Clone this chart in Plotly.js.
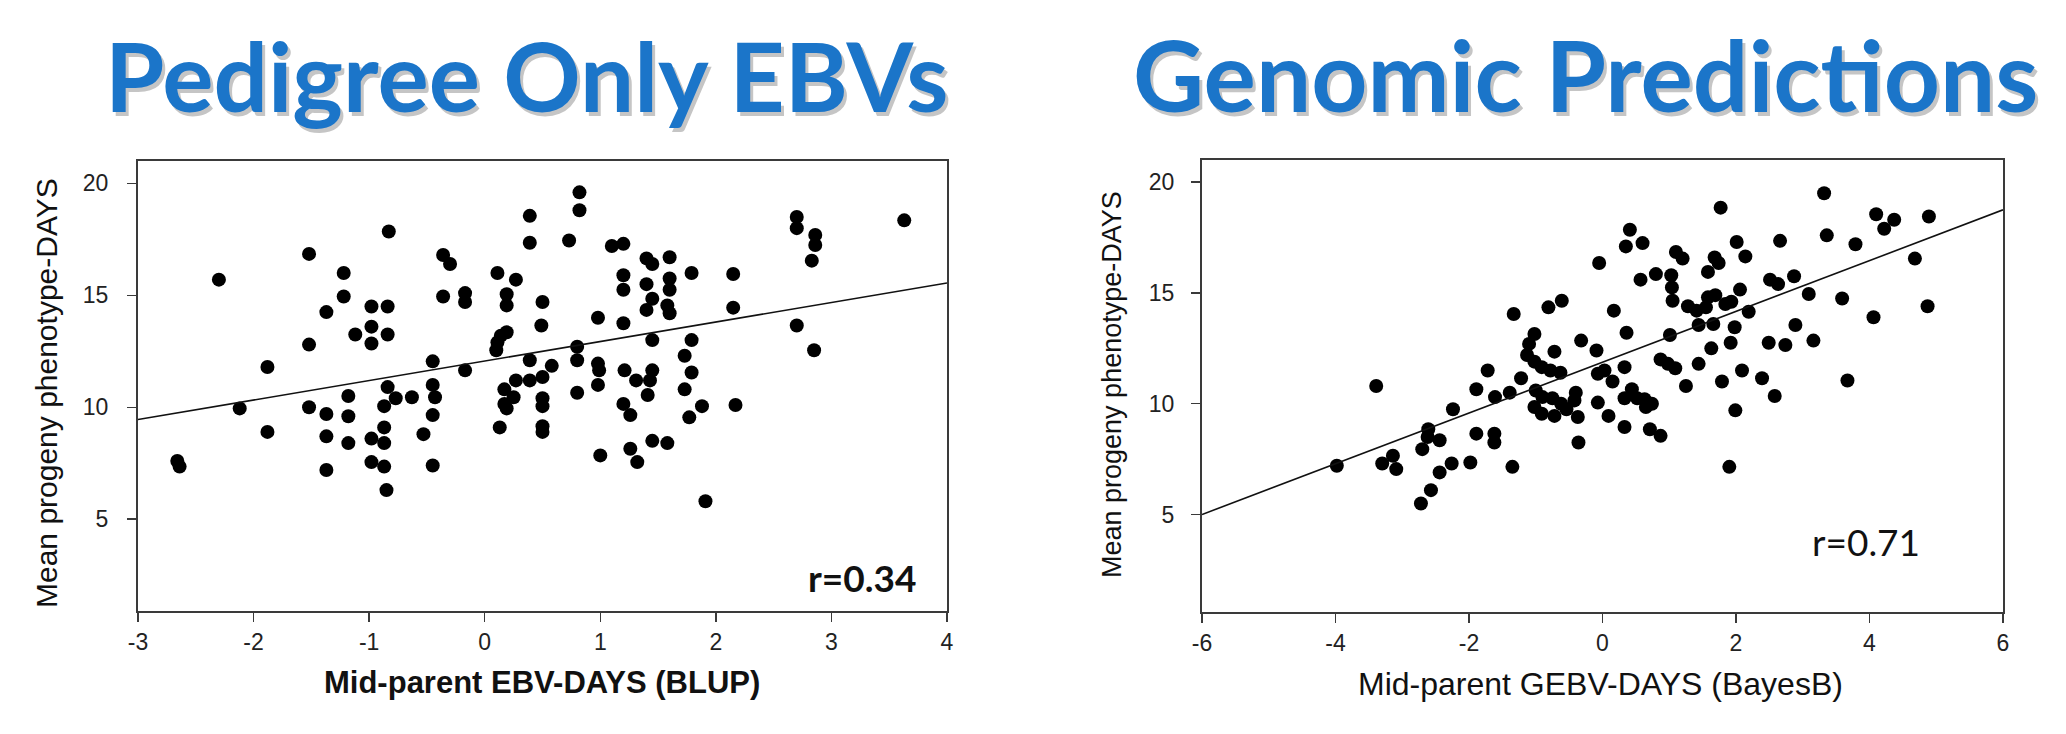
<!DOCTYPE html>
<html><head><meta charset="utf-8">
<script src="https://cdn.plot.ly/plotly-3.0.1.min.js"></script>
<style>html,body{margin:0;padding:0;background:#fff;}#chart{width:2066px;height:734px;}</style>
</head><body><div id="chart"></div>
<script>
// ---- Panel titles ----
const panelTitles = ["Pedigree Only EBVs", "Genomic Predictions"];
const xTitles = ["Mid-parent EBV-DAYS (BLUP)", "Mid-parent GEBV-DAYS (BayesB)"];
const yTitle = "Mean progeny phenotype-DAYS";
const rLabels = ["r=0.34", "r=0.71"];

// ---- Left panel: pedigree-only EBVs ----
const leftX = [
  -2.30, -2.66, -2.64, -2.12, -1.88, -1.88, -1.52, -1.52, -1.52, -1.37, -1.37, -1.37, -1.37,
  -1.22, -1.22, -1.18, -1.18, -1.18, -1.12, -0.98, -0.98, -0.98, -0.98, -0.98,
  -0.84, -0.84, -0.84, -0.87, -0.87, -0.87, -0.87, -0.85, -0.77, -0.63, -0.83,
  -0.53, -0.45, -0.45, -0.43, -0.45, -0.45, -0.36, -0.30, -0.36, -0.17, -0.17, -0.17,
  0.11, 0.11, 0.10, 0.14, 0.13, 0.19, 0.19, 0.19, 0.17, 0.17, 0.19, 0.25, 0.27, 0.27,
  0.39, 0.39, 0.39, 0.39, 0.50, 0.49, 0.50, 0.50, 0.50, 0.50, 0.50, 0.58,
  0.82, 0.82, 0.73, 0.80, 0.80, 0.80, 0.98, 0.98, 0.99, 0.98, 1.00,
  1.10, 1.20, 1.20, 1.20, 1.20, 1.21, 1.20, 1.26, 1.26, 1.32, 1.31,
  1.40, 1.45, 1.40, 1.45, 1.40, 1.45, 1.45, 1.43, 1.41, 1.45, 1.58, 1.60, 1.60, 1.60, 1.58, 1.60,
  1.79, 1.79, 1.73, 1.79, 1.73, 1.88, 1.77, 1.91, 2.15, 2.15, 2.17, 2.70, 2.70, 2.70, 2.86, 2.86, 2.83, 2.85, 3.63
];
const leftY = [
  15.70, 7.60, 7.35, 9.95, 11.8, 8.9, 16.85, 12.8, 10.0, 14.25, 9.7, 8.7, 7.2,
  16.0, 14.95, 10.5, 9.6, 8.4, 13.25, 14.5, 13.6, 12.85, 8.6, 7.55,
  14.5, 13.25, 10.9, 10.05, 9.1, 8.4, 7.35, 6.3, 10.4, 10.45, 17.85,
  8.8, 12.05, 11.0, 10.45, 9.65, 7.4, 16.8, 16.4, 14.95, 15.1, 14.7, 11.65,
  16.0, 12.9, 12.55, 13.2, 9.1, 15.05, 14.55, 13.35, 10.8, 10.15, 9.95, 10.45, 11.2, 15.7,
  18.55, 17.35, 12.1, 11.2, 14.7, 13.65, 11.35, 10.4, 10.05, 9.15, 8.9, 11.85,
  19.6, 18.8, 17.45, 12.7, 12.1, 10.65, 14.0, 11.95, 11.65, 11.0, 7.85,
  17.2, 17.3, 15.9, 15.25, 13.75, 11.65, 10.15, 9.65, 8.15, 7.55, 11.2,
  16.65, 16.4, 15.5, 14.85, 14.35, 13.0, 11.65, 11.2, 10.55, 8.5, 8.4, 16.7, 15.75, 15.25, 14.55, 14.2,
  16.0, 13.0, 12.3, 11.55, 10.8, 10.05, 9.55, 5.8, 15.95, 14.45, 10.1, 18.5, 18.0, 13.65, 17.7, 17.25, 16.55, 12.55, 18.35
];
const leftFitX = [-3, 4];
const leftFitY = [9.45, 15.55];
const leftXTicks = [-3, -2, -1, 0, 1, 2, 3, 4];
const leftXTickText = ["-3", "-2", "-1", "0", "1", "2", "3", "4"];
const yTicks = [5, 10, 15, 20];

// ---- Right panel: genomic predictions ----
const rightX = [
  -3.98, -3.39, -3.30, -3.14, -3.09, -2.72, -2.57, -2.70, -2.62, -2.61, -2.44, -2.44, -2.26, -2.24,
  -1.98, -1.89, -1.89, -1.72, -1.62, -1.62, -1.61,
  -1.33, -1.35, -1.39, -1.22, -1.02, -1.10, -1.13, -1.02, -0.91, -0.78, -0.63, -0.72,
  -1.00, -1.02, -0.90, -0.91, -0.75, -0.72, -0.62, -0.54, -0.40, -0.42, -0.37, -0.36,
  -0.32, -0.09, -0.81, -0.61, -0.07, -0.05, -0.07, 0.03, 0.09, 0.15, 0.17,
  0.33, 0.36, 0.33, 0.33, 0.44, 0.41, 0.35, 0.60, 0.57, 0.52, 0.63, 0.65, 0.74, 0.71, 0.87,
  0.80, 0.87, 0.98, 1.09, 1.01, 1.03, 1.04, 1.05, 1.10, 1.20, 1.25, 1.28,
  1.41, 1.44, 1.44, 1.55, 1.58, 1.58, 1.66, 1.63, 1.68, 1.69, 1.77, 1.74, 1.79, 1.84,
  1.93, 1.90, 1.92, 1.99, 1.98, 2.01, 2.06, 2.09, 2.14, 2.19,
  2.39, 2.49, 2.51, 2.58, 2.63, 2.66, 2.74, 2.87, 2.89, 3.09, 3.16, 3.32, 3.36,
  3.59, 3.67, 3.79, 4.06, 4.10, 4.22, 4.37, 4.68, 4.87, 4.89
];
const rightY = [
  7.2, 10.8, 7.3, 7.65, 7.05, 5.5, 6.1, 7.95, 8.5, 8.85, 8.35, 6.9, 7.3, 9.75,
  7.35, 8.65, 10.65, 11.5, 8.65, 8.25, 10.3,
  14.05, 7.15, 10.5, 11.15, 13.15, 12.7, 12.2, 11.9, 11.65, 11.5, 11.4, 12.35,
  10.6, 9.85, 10.3, 9.55, 10.25, 9.45, 10.0, 9.75, 10.5, 10.15, 9.4, 8.25,
  12.85, 12.4, 14.35, 14.65, 10.05, 16.35, 11.35, 11.5, 9.45, 11.0, 14.2,
  11.65, 13.2, 10.25, 8.95, 10.65, 17.85, 17.1, 17.25, 15.6, 10.25, 10.2, 9.85, 10.0, 8.85, 8.55,
  15.85, 12.0, 11.8, 11.6, 13.1, 15.8, 15.25, 14.65, 16.85, 16.55, 10.8, 14.4,
  14.2, 13.55, 11.8, 14.35, 15.95, 14.8, 13.6, 12.5, 16.6, 14.9, 18.85, 16.35, 11.0, 14.5,
  14.6, 7.15, 12.75, 9.7, 13.45, 17.3, 15.15, 11.5, 16.65, 14.15,
  11.15, 12.75, 15.6, 10.35, 15.4, 17.35, 12.65, 15.75, 13.55, 14.95, 12.85, 19.5, 17.6,
  14.75, 11.05, 17.2, 13.9, 18.55, 17.9, 18.3, 16.55, 14.4, 18.45
];
const rightFitX = [-6, 6];
const rightFitY = [5.0, 18.75];
const rightXTicks = [-6, -4, -2, 0, 2, 4, 6];
const rightXTickText = ["-6", "-4", "-2", "0", "2", "4", "6"];

// ---- styling ----
const tickFont = {family: "Liberation Sans, Arial, sans-serif", size: 23, color: "#222"};
const markerStyle = {size: 14, color: "#000", symbol: "circle", line: {width: 0}};
const fitLine = {color: "#111", width: 1.6};
const frameColor = "#3a3a3a";

const traces = [
  {type: "scatter", mode: "markers", x: leftX, y: leftY, xaxis: "x", yaxis: "y", marker: markerStyle, hoverinfo: "skip"},
  {type: "scatter", mode: "lines", x: leftFitX, y: leftFitY, xaxis: "x", yaxis: "y", line: fitLine, hoverinfo: "skip"},
  {type: "scatter", mode: "markers", x: rightX, y: rightY, xaxis: "x2", yaxis: "y2", marker: markerStyle, hoverinfo: "skip"},
  {type: "scatter", mode: "lines", x: rightFitX, y: rightFitY, xaxis: "x2", yaxis: "y2", line: fitLine, hoverinfo: "skip"}
];

function axisBase(extra) {
  return Object.assign({
    showgrid: false, zeroline: false, showline: true, mirror: true,
    linecolor: frameColor, linewidth: 2,
    ticks: "outside", ticklen: 9, tickwidth: 1.5, tickcolor: frameColor,
    tickfont: tickFont, fixedrange: true
  }, extra);
}

const W = 2066, H = 734;
const px = v => v / W, py = v => (H - v) / H;

const titleFonts = [
  {family: "Lato, Noto Sans, sans-serif", size: 96, color: "#1b75c9", weight: 700},
  {family: "Lato, Noto Sans, sans-serif", size: 98, color: "#1b75c9", weight: 700}
];

const annotations = [];
const titlePos = [[526, 74], [1585, 74]];
panelTitles.forEach((t, i) => {
  const shadowFont = Object.assign({}, titleFonts[i], {color: "rgba(90,90,90,0.35)"});
  annotations.push({text: "<b>" + t + "</b>", xref: "paper", yref: "paper", x: px(titlePos[i][0]), y: py(titlePos[i][1]),
    xanchor: "center", yanchor: "middle", showarrow: false, font: shadowFont, xshift: 3, yshift: -4});
  annotations.push({text: "<b>" + t + "</b>", xref: "paper", yref: "paper", x: px(titlePos[i][0]), y: py(titlePos[i][1]),
    xanchor: "center", yanchor: "middle", showarrow: false, font: titleFonts[i]});
});
// axis titles
annotations.push({text: "<b>" + xTitles[0] + "</b>", xref: "paper", yref: "paper", x: px(542), y: py(682),
  xanchor: "center", yanchor: "middle", showarrow: false,
  font: {family: "Liberation Sans, Arial, sans-serif", size: 31, color: "#111"}});
annotations.push({text: xTitles[1], xref: "paper", yref: "paper", x: px(1600), y: py(684),
  xanchor: "center", yanchor: "middle", showarrow: false,
  font: {family: "Liberation Sans, Arial, sans-serif", size: 32, color: "#111"}});
annotations.push({text: yTitle, xref: "paper", yref: "paper", x: px(46), y: py(393), textangle: -90,
  xanchor: "center", yanchor: "middle", showarrow: false,
  font: {family: "Liberation Sans, Arial, sans-serif", size: 30, color: "#111"}});
annotations.push({text: yTitle, xref: "paper", yref: "paper", x: px(1112), y: py(385), textangle: -90,
  xanchor: "center", yanchor: "middle", showarrow: false,
  font: {family: "Liberation Sans, Arial, sans-serif", size: 27, color: "#111"}});
// correlation labels
annotations.push({text: "<b>" + rLabels[0] + "</b>", xref: "paper", yref: "paper", x: px(862), y: py(577),
  xanchor: "center", yanchor: "middle", showarrow: false,
  font: {family: "Lato, sans-serif", size: 37, color: "#111"}});
annotations.push({text: rLabels[1], xref: "paper", yref: "paper", x: px(1866), y: py(541),
  xanchor: "center", yanchor: "middle", showarrow: false,
  font: {family: "Lato, sans-serif", size: 37, color: "#111"}});

const layout = {
  width: W, height: H,
  margin: {l: 0, r: 0, t: 0, b: 0, pad: 0},
  paper_bgcolor: "#fff", plot_bgcolor: "#fff",
  showlegend: false,
  xaxis: axisBase({domain: [px(138), px(947)], range: [-3, 4], tickvals: leftXTicks, ticktext: leftXTickText, anchor: "y", ticklabelstandoff: 0}),
  yaxis: axisBase({domain: [py(611), py(161)], range: [0.9, 21], tickvals: yTicks, anchor: "x", ticklabelstandoff: 14}),
  xaxis2: axisBase({domain: [px(1202), px(2003)], range: [-6, 6], tickvals: rightXTicks, ticktext: rightXTickText, anchor: "y2", ticklabelstandoff: 0}),
  yaxis2: axisBase({domain: [py(612), py(160)], range: [0.6, 21], tickvals: yTicks, anchor: "x2", ticklabelstandoff: 12}),
  annotations: annotations
};

Plotly.newPlot("chart", traces, layout, {displayModeBar: false, staticPlot: true});
</script>
</body></html>
